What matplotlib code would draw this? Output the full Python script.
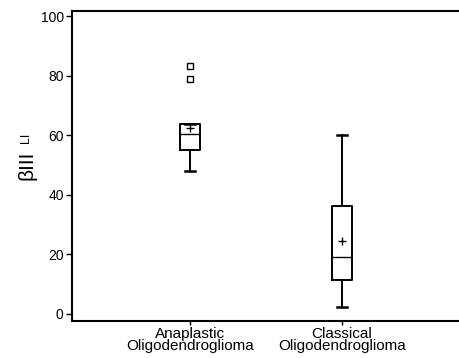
import matplotlib
matplotlib.use("Agg")
import matplotlib.pyplot as plt

plt.rcParams['font.family'] = ['Liberation Sans', 'DejaVu Sans']

# values (beta III labelling index)
groups = ["Anaplastic\nOligodendroglioma", "Classical\nOligodendroglioma"]
q1 = [55.0, 11.4]
median = [60.5, 19.0]
q3 = [63.6, 36.3]
whis_lo = [48.0, 2.4]
whis_hi = [63.6, 60.0]
means = [62.3, 24.5]
outliers = [[79.0, 83.2], []]

stats = []
for i in range(len(groups)):
    stats.append({
        "label": groups[i], "q1": q1[i], "med": median[i], "q3": q3[i],
        "whislo": whis_lo[i], "whishi": whis_hi[i], "mean": means[i],
        "fliers": outliers[i],
    })

fig = plt.figure(figsize=(4.6, 3.58), dpi=100)
ax = fig.add_axes([0.1565, 0.1034, 0.8435, 0.8659])

lw = 1.4
ax.bxp(stats, positions=[1, 2], widths=0.137, showmeans=True,
       boxprops=dict(color="black", linewidth=lw),
       whiskerprops=dict(color="black", linewidth=lw),
       capprops=dict(color="black", linewidth=1.8),
       medianprops=dict(color="black", linewidth=1.0),
       meanprops=dict(marker="+", markeredgecolor="black", markersize=6, markeredgewidth=1.0),
       flierprops=dict(marker="s", markerfacecolor="white", markeredgecolor="black",
                       markersize=5, markeredgewidth=1.0))

ax.set_xlim(0.224, 2.776)
ax.set_ylim(-2.4, 101.7)
ax.set_yticks([0, 20, 40, 60, 80, 100])
ax.set_xticks([1, 2])
ax.set_xticklabels(groups, fontsize=11, linespacing=0.85)
ax.tick_params(axis="y", direction="out", length=4, width=1.0, labelsize=10, pad=2)
ax.tick_params(axis="x", direction="out", length=3, width=1.0, pad=1)
for s in ["left", "top", "bottom"]:
    ax.spines[s].set_linewidth(1.5)
ax.spines["right"].set_visible(False)

# y label: large "βIII" with a small "LI" sitting on the same baseline
fig.text(0.058, 0.539, "\u03b2III", rotation=90, fontsize=15, ha="center", va="center")
fig.text(0.056, 0.614, "LI", rotation=90, fontsize=9, ha="center", va="center")

fig.savefig("out.png", dpi=100)
